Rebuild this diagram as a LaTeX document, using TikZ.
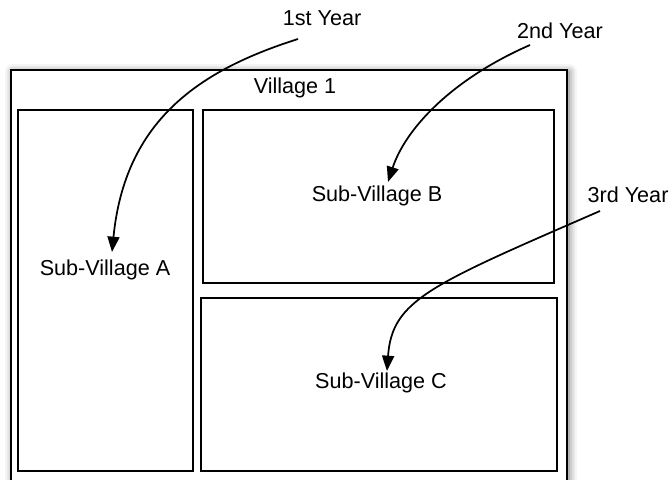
\documentclass[tikz,border=0pt]{standalone}
\usepackage{fontspec}
\setmainfont{Liberation Sans}
\usetikzlibrary{arrows.meta,shadows.blur}

\tikzset{
  area/.style={draw=black, line width=1.9pt, fill=white, inner sep=0pt, outer sep=0pt, anchor=north west},
  outerarea/.style={area, blur shadow={shadow xshift=1.5pt, shadow yshift=-1.5pt, shadow blur radius=6pt, shadow opacity=60}},
  lbl/.style={font=\fontsize{16.2pt}{19pt}\selectfont, inner sep=1pt},
  yeararrow/.style={line width=1.3pt, -{Triangle[length=11.5pt, width=9pt]}}
}

\begin{document}
\begin{tikzpicture}[x=0.75pt, y=-0.75pt]
  \useasboundingbox (0,0) rectangle (672,479);
  \clip (0,0) rectangle (672,479);

  % village and its three parts
  \node[outerarea, minimum width=556*0.75pt, minimum height=430*0.75pt] (village) at (11,70) {};
  \node[area, minimum width=175*0.75pt, minimum height=361*0.75pt] (subA) at (18,110) {};
  \node[area, minimum width=351*0.75pt, minimum height=173*0.75pt] (subB) at (203,110) {};
  \node[area, minimum width=356*0.75pt, minimum height=173*0.75pt] (subC) at (201,298) {};

  % labels
  \node[lbl] (lv) at (295,88) {Village 1};
  \node[lbl] (la) at (105,270) {Sub-Village A};
  \node[lbl] (lb) at (377,196) {Sub-Village B};
  \node[lbl] (lc) at (381,383) {Sub-Village C};

  \node[lbl] (y1) at (322,18) {1st Year};
  \node[lbl] (y2) at (560,31) {2nd Year};
  \node[lbl] (y3) at (628,195) {3rd Year};

  % arrow ends
  \coordinate (s1) at (298,39);
  \coordinate (e1) at (112,252);
  \coordinate (s2) at (530,45);
  \coordinate (e2) at (388,182);
  \coordinate (s3) at (600,211);
  \coordinate (e3) at (387,371);

  \draw[yeararrow] (s1) .. controls (200,70) and (125,120) .. (e1);
  \draw[yeararrow] (s2) .. controls (450,80) and (405,130) .. (e2);
  \draw[yeararrow] (s3) .. controls (430,285) and (392,300) .. (e3);
\end{tikzpicture}
\end{document}
